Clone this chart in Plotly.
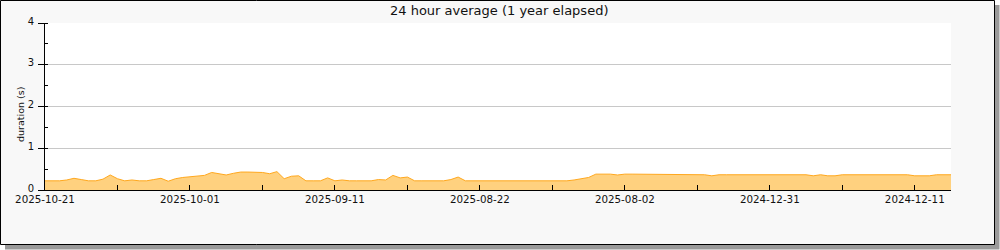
import plotly.graph_objects as go

# ---- data ----
day_index = list(range(126))
durations = [
    0.22, 0.22, 0.22, 0.24, 0.28, 0.25, 0.22, 0.22, 0.26, 0.36,
    0.27, 0.22, 0.24, 0.22, 0.22, 0.25, 0.28, 0.21, 0.27, 0.30,
    0.32, 0.34, 0.35, 0.42, 0.39, 0.36, 0.40, 0.43, 0.43, 0.43,
    0.42, 0.39, 0.44, 0.27, 0.33, 0.34, 0.22, 0.22, 0.22, 0.29,
    0.22, 0.24, 0.22, 0.22, 0.22, 0.22, 0.25, 0.24, 0.35, 0.29,
    0.31, 0.22, 0.22, 0.22, 0.22, 0.22, 0.25, 0.31, 0.22, 0.22,
    0.22, 0.22, 0.22, 0.22, 0.22, 0.22, 0.22, 0.22, 0.22, 0.22,
    0.22, 0.22, 0.22, 0.24, 0.27, 0.30, 0.38, 0.38, 0.38, 0.36,
    0.38, 0.38, 0.38, 0.38, 0.38, 0.38, 0.38, 0.365, 0.365, 0.365,
    0.365, 0.365, 0.34, 0.365, 0.365, 0.365, 0.365, 0.365, 0.365, 0.365,
    0.365, 0.365, 0.365, 0.365, 0.365, 0.365, 0.34, 0.365, 0.34, 0.34,
    0.365, 0.365, 0.365, 0.365, 0.365, 0.365, 0.365, 0.365, 0.365, 0.365,
    0.34, 0.34, 0.34, 0.365, 0.365, 0.365,
]
tick_positions = [0, 10, 20, 30, 40, 50, 60, 70, 80, 90, 100, 110, 120]
tick_labels = ["2025-10-21", "", "2025-10-01", "", "2025-09-11", "", "2025-08-22",
               "", "2025-08-02", "", "2024-12-31", "", "2024-12-11"]
title_text = "24 hour average (1 year elapsed)"
y_title = "duration (s)"

# ---- layout geometry (pixels) ----
W, H = 1000, 250
L, R, T, B = 45, 49, 23, 60
PW, PH = W - L - R, H - T - B


def px_x(X):
    return (X - L) / PW


def px_y(Y):
    return (H - B - Y) / PH


FONT = "DejaVu Sans"

fig = go.Figure()
fig.add_trace(go.Scatter(
    x=day_index, y=durations, mode="lines", fill="tozeroy",
    line=dict(color="#FFA81E", width=1), fillcolor="#FFD17F",
    hoverinfo="skip", showlegend=False,
))

shapes = [
    # shadow
    dict(type="rect", xref="paper", yref="paper", layer="below",
         x0=px_x(5), x1=px_x(999.5), y0=px_y(249.5), y1=px_y(5),
         fillcolor="#9a9a9a", line=dict(width=0)),
    # frame
    dict(type="rect", xref="paper", yref="paper", layer="below",
         x0=px_x(0.5), x1=px_x(994.5), y0=px_y(244.5), y1=px_y(0.5),
         fillcolor="#f8f8f8", line=dict(color="black", width=1)),
    # plot area
    dict(type="rect", xref="paper", yref="paper", layer="below",
         x0=0, x1=1, y0=0, y1=1, fillcolor="white", line=dict(width=0)),
]

fig.update_layout(
    width=W, height=H,
    margin=dict(l=L, r=R, t=T, b=B, pad=0),
    paper_bgcolor="white", plot_bgcolor="white",
    font=dict(family=FONT, size=10, color="#111"),
    shapes=shapes,
    showlegend=False,
    annotations=[
        dict(text=title_text, xref="paper", yref="paper",
             x=px_x(499), y=px_y(10.5), xanchor="center", yanchor="middle",
             showarrow=False, font=dict(family=FONT, size=13, color="#111")),
        dict(text=y_title, xref="paper", yref="paper", textangle=-90,
             x=px_x(20), y=px_y(115), xanchor="center", yanchor="middle",
             showarrow=False, font=dict(family=FONT, size=9.5, color="#111")),
    ],
)

fig.update_xaxes(
    range=[0, 125], tickmode="array", tickvals=tick_positions, ticktext=tick_labels,
    ticks="inside", ticklen=5, tickwidth=1, tickcolor="black",
    showline=True, linecolor="black", linewidth=1,
    showgrid=False, zeroline=False, tickangle=0,
    tickfont=dict(family=FONT, size=10.3, color="#111"),
)
fig.update_yaxes(
    range=[0, 4], tickmode="linear", tick0=0, dtick=1,
    ticks="outside", ticklen=6, tickwidth=1, tickcolor="black",
    minor=dict(ticks="inside", ticklen=3, dtick=0.5, tick0=0, tickcolor="black", showgrid=False),
    showline=True, linecolor="black", linewidth=1,
    showgrid=True, gridcolor="#c8c8c8", gridwidth=1, zeroline=False,
    tickfont=dict(family=FONT, size=10, color="#111"),
    ticklabelstandoff=2, ticklabelshift=-2,
)

fig.write_html("out.html", config=dict(displayModeBar=False))
